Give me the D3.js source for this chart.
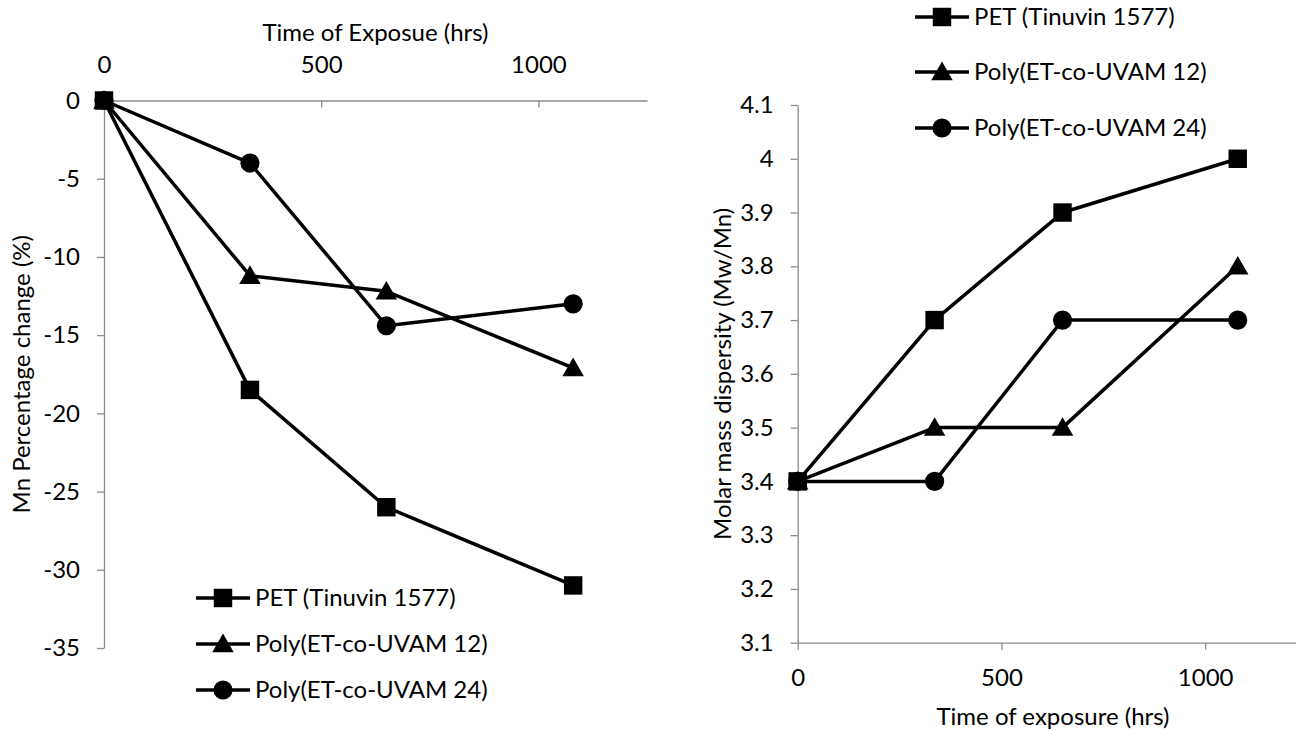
<!DOCTYPE html>
<html>
<head>
<meta charset="utf-8">
<script src="https://cdn.jsdelivr.net/npm/d3@7"></script>
<style>
  body { margin: 0; background: #fff; }
  svg { display: block; font-family: Lato, "Open Sans", sans-serif; }
  .axis path, .axis line { stroke: #8c8c8c; stroke-width: 1.3; }
  .axis text { fill: #000; font-size: 24px; font-family: Lato, sans-serif; }
</style>
</head>
<body>
<svg id="chart" width="1296" height="731"></svg>
<script>
// exposure times (hrs)
const times = [0, 336, 650, 1080];
const seriesNames = ['PET (Tinuvin 1577)', 'Poly(ET-co-UVAM 12)', 'Poly(ET-co-UVAM 24)'];
const seriesSymbols = ['square', 'triangle', 'circle'];

// left: Mn percentage change (%)
const mnPET = [0, -18.5, -26, -31];
const mnUVAM12 = [0, -11.2, -12.2, -17.1];
const mnUVAM24 = [0, -4, -14.4, -13];

// right: molar mass dispersity (Mw/Mn)
const dispPET = [3.4, 3.7, 3.9, 4.0];
const dispUVAM12 = [3.4, 3.5, 3.5, 3.8];
const dispUVAM24 = [3.4, 3.4, 3.7, 3.7];

const xTicks = [0, 500, 1000];
const yTicksLeft = [0, -5, -10, -15, -20, -25, -30, -35];
const yTicksRight = [3.1, 3.2, 3.3, 3.4, 3.5, 3.6, 3.7, 3.8, 3.9, 4.0, 4.1];

const svg = d3.select('#chart');
const plain = (d) => String(+d.toFixed(2));

const symbolType = {
    square: {type: d3.symbolSquare, size: 340},
    triangle: {type: d3.symbolTriangle, size: 200},
    circle: {type: d3.symbolCircle, size: 290}
};

const drawMarker = (g, name, x, y) => {
    const s = symbolType[name];
    const dy = name === 'triangle' ? 2 : 0;
    g.append('path')
        .attr('d', d3.symbol().type(s.type).size(s.size)())
        .attr('transform', 'translate(' + x + ',' + (y + dy) + ')')
        .attr('fill', '#000');
};

const drawSeries = (g, x, y, values, sym) => {
    const pts = times.map((t, i) => [x(t), y(values[i])]);
    g.append('path')
        .attr('d', d3.line()(pts))
        .attr('fill', 'none')
        .attr('stroke', '#000')
        .attr('stroke-width', 3.5)
        .attr('stroke-linejoin', 'round');
    pts.forEach((p) => drawMarker(g, sym, p[0], p[1]));
};

const drawLegend = (g, x0, ys) => {
    seriesNames.forEach((name, i) => {
        const y = ys[i];
        g.append('line')
            .attr('x1', x0).attr('x2', x0 + 54)
            .attr('y1', y).attr('y2', y)
            .attr('stroke', '#000').attr('stroke-width', 3.5);
        drawMarker(g, seriesSymbols[i], x0 + 27, y);
        g.append('text')
            .attr('x', x0 + 59).attr('y', y)
            .attr('dy', '0.35em')
            .attr('font-size', 24)
            .text(name);
    });
};

// ---- left chart ----
(() => {
    const x = d3.scaleLinear().domain([0, 1250]).range([104, 647]);
    const y = d3.scaleLinear().domain([-35, 0]).range([648, 100.5]);
    const g = svg.append('g');

    g.append('g').attr('class', 'axis')
        .attr('transform', 'translate(0,' + y(0) + ')')
        .call(d3.axisTop(x).tickValues(xTicks).tickSizeInner(-7).tickSizeOuter(0).tickPadding(28)
            .tickFormat(plain));

    g.append('g').attr('class', 'axis')
        .attr('transform', 'translate(' + x(0) + ',0)')
        .call(d3.axisLeft(y).tickValues(yTicksLeft).tickSizeInner(7).tickSizeOuter(0).tickPadding(17)
            .tickFormat(plain));

    g.append('text')
        .attr('x', (x.range()[0] + x.range()[1]) / 2).attr('y', 41)
        .attr('text-anchor', 'middle').attr('font-size', 24)
        .text('Time of Exposue (hrs)');

    g.append('text')
        .attr('transform', 'translate(30,' + (y(0) + y(-35)) / 2 + ') rotate(-90)')
        .attr('text-anchor', 'middle').attr('font-size', 24)
        .text('Mn Percentage change (%)');

    drawSeries(g, x, y, mnPET, 'square');
    drawSeries(g, x, y, mnUVAM12, 'triangle');
    drawSeries(g, x, y, mnUVAM24, 'circle');

    drawLegend(g, 196, [598, 644, 690]);
})();

// ---- right chart ----
(() => {
    const x = d3.scaleLinear().domain([0, 1250]).range([797.7, 1307]);
    const y = d3.scaleLinear().domain([3.1, 4.1]).range([642.7, 105]);
    const g = svg.append('g');

    g.append('g').attr('class', 'axis')
        .attr('transform', 'translate(0,' + y(3.1) + ')')
        .call(d3.axisBottom(x).tickValues(xTicks).tickSizeInner(7).tickSizeOuter(0).tickPadding(19)
            .tickFormat(plain));

    g.append('g').attr('class', 'axis')
        .attr('transform', 'translate(' + x(0) + ',0)')
        .call(d3.axisLeft(y).tickValues(yTicksRight).tickSizeInner(7).tickSizeOuter(0).tickPadding(17)
            .tickFormat(plain));

    g.append('text')
        .attr('x', 1053).attr('y', 725)
        .attr('text-anchor', 'middle').attr('font-size', 24)
        .text('Time of exposure (hrs)');

    g.append('text')
        .attr('transform', 'translate(731,' + (y(3.1) + y(4.1)) / 2 + ') rotate(-90)')
        .attr('text-anchor', 'middle').attr('font-size', 24)
        .text('Molar mass dispersity (Mw/Mn)');

    drawSeries(g, x, y, dispPET, 'square');
    drawSeries(g, x, y, dispUVAM12, 'triangle');
    drawSeries(g, x, y, dispUVAM24, 'circle');

    drawLegend(g, 915, [17, 72, 128]);
})();
</script>
</body>
</html>
